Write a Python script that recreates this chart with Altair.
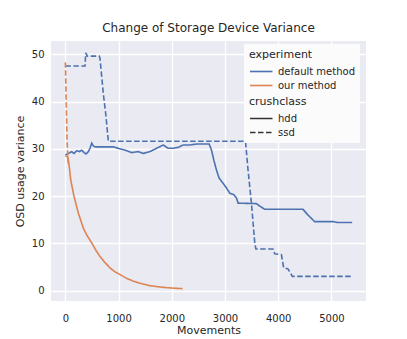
import altair as alt
import pandas as pd

# default method, hdd
dh_x = [0, 38, 88, 120, 163, 213, 263, 307, 351, 388, 432, 463, 495, 526, 560, 700, 901, 995,
        1152, 1245, 1370, 1463, 1589, 1714, 1839, 1932, 2026, 2120, 2214, 2340, 2465, 2589, 2702,
        2747, 2790, 2840, 2889, 2964, 3028, 3090, 3165, 3215, 3246, 3590, 3650, 3747, 4465, 4559,
        4685, 5028, 5122, 5390]
dh_y = [28.7, 28.9, 29.2, 29.4, 29.0, 29.6, 29.4, 29.7, 29.2, 28.9, 29.4, 30.1, 31.2, 30.6, 30.4,
        30.4, 30.4, 30.1, 29.6, 29.2, 29.4, 29.0, 29.4, 30.1, 30.8, 30.1, 30.1, 30.3, 30.8, 30.8,
        31.0, 31.0, 31.0, 29.7, 27.6, 25.5, 23.8, 22.7, 21.7, 20.6, 20.3, 19.6, 18.5, 18.4, 17.9,
        17.2, 17.2, 16.0, 14.6, 14.6, 14.4, 14.4]

# default method, ssd
ds_x = [0, 370, 383, 413, 638, 651, 713, 764, 807, 3385, 3433, 3497, 3559, 3580, 3902, 3934,
        4060, 4103, 4184, 4266, 5390]
ds_y = [47.5, 47.5, 50.3, 49.6, 49.6, 49.1, 41.7, 36.8, 31.6, 31.6, 25.5, 18.5, 10.1, 8.8, 8.8,
        7.8, 7.6, 4.8, 4.6, 3.0, 3.0]

# our method, hdd
oh_x = [0, 50, 69, 101, 163, 244, 338, 400, 495, 575, 651, 740, 839, 930, 1026, 1150, 1276,
        1420, 1589, 1750, 1902, 2050, 2202]
oh_y = [28.5, 28.2, 26.6, 23.4, 19.9, 16.4, 13.2, 11.8, 10.1, 8.5, 7.2, 6.0, 4.8, 4.0, 3.4, 2.6,
        2.0, 1.5, 1.05, 0.8, 0.63, 0.5, 0.42]

# our method, ssd
os_x = [0, 16, 32, 45, 56]
os_y = [48.3, 40.0, 31.9, 28.5, 26.8]

experiments = ["default method", "our method"]
classes = ["hdd", "ssd"]
x_ticks = [0, 1000, 2000, 3000, 4000, 5000]
y_ticks = [0, 10, 20, 30, 40, 50]

rows = []
for xs, ys, e, c in [(dh_x, dh_y, experiments[0], classes[0]),
                     (ds_x, ds_y, experiments[0], classes[1]),
                     (oh_x, oh_y, experiments[1], classes[0]),
                     (os_x, os_y, experiments[1], classes[1])]:
    for xv, yv in zip(xs, ys):
        rows.append({"Movements": xv, "var": yv, "experiment": e, "crushclass": c})
df = pd.DataFrame(rows)

FONT = "DejaVu Sans"
TXT = "#262626"
PAD = "\u2800"

chart = alt.Chart(df).mark_line(strokeWidth=1.6).encode(
    x=alt.X("Movements:Q", scale=alt.Scale(domain=[-270, 5650], nice=False, zero=False),
            axis=alt.Axis(values=x_ticks, format="d", title="Movements", labelPadding=12, titlePadding=1)),
    y=alt.Y("var:Q", scale=alt.Scale(domain=[-2.2, 52.8], nice=False, zero=False),
            axis=alt.Axis(values=y_ticks, title="OSD usage variance", labelPadding=7, titlePadding=6)),
    color=alt.Color("experiment:N",
                    scale=alt.Scale(domain=experiments, range=["#4C72B0", "#DD8452"]),
                    legend=alt.Legend(title="experiment", orient="none", legendX=193, legendY=3,
                                      symbolStrokeWidth=1.6)),
    strokeDash=alt.StrokeDash("crushclass:N",
                              scale=alt.Scale(domain=classes, range=[[1, 0], [5.5, 2.5]]),
                              legend=alt.Legend(title="crushclass" + PAD * 6, orient="none",
                                                legendX=193, legendY=50,
                                                symbolStrokeColor="#333333", symbolStrokeWidth=1.6)),
    detail="crushclass:N",
).properties(
    width=315, height=260,
    title=alt.TitleParams("Change of Storage Device Variance", fontSize=12, font=FONT,
                          fontWeight="normal", color=TXT, offset=6),
    autosize=alt.AutoSizeParams(type="none"),
    padding={"left": 43, "top": 33, "right": 33, "bottom": 36},
).configure_view(
    fill="#EAEAF2", stroke=None
).configure_axis(
    domain=False, ticks=False, tickSize=0, grid=True, gridColor="white", gridWidth=1.3,
    labelFont=FONT, labelFontSize=10, labelColor=TXT,
    titleFont=FONT, titleFontSize=11, titleColor=TXT, titleFontWeight="normal"
).configure_legend(
    labelFont=FONT, labelFontSize=10, labelColor=TXT,
    titleFont=FONT, titleFontSize=11, titleColor=TXT, titleFontWeight="normal",
    symbolType="M-1,0H2", symbolSize=225, fillColor="#FBFBFC", padding=5,
    rowPadding=0, labelOffset=12, titlePadding=3
)

chart.save("out.html", embed_options={"renderer": "svg", "actions": False})
